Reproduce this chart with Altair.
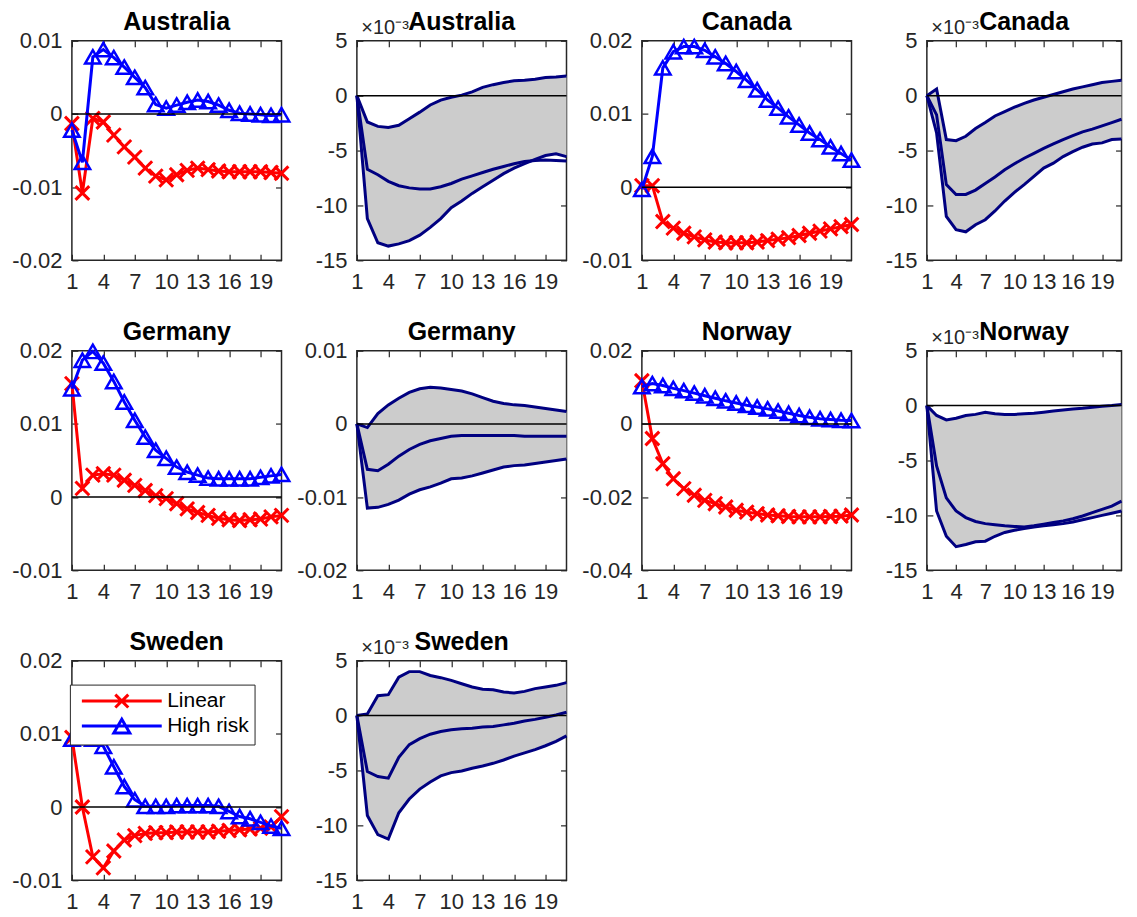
import altair as alt
import pandas as pd

horizon = list(range(1, 22))
x_ticks = [1, 4, 7, 10, 13, 16, 19]
series_names = ["Linear", "High risk"]

# ---- Australia ----
aus_linear = [-0.0013, -0.0108, -0.0006, -0.0011, -0.0029, -0.0045, -0.0059, -0.0074, -0.0085, -0.0090, -0.0083,
              -0.0077, -0.0074, -0.0076, -0.0078, -0.0079, -0.0079, -0.0079, -0.0079, -0.0080, -0.0081]
aus_high = [-0.0022, -0.0066, 0.0078, 0.0088, 0.0077, 0.0064, 0.0050, 0.0036, 0.0013, 0.0008, 0.0012,
            0.0016, 0.0019, 0.0017, 0.0012, 0.0005, 0.0001, 0.0000, -0.0001, -0.0002, -0.0001]
aus_upper = [0, -2.4, -2.8, -2.9, -2.7, -2.1, -1.5, -0.85, -0.4, -0.15, 0.05, 0.35, 0.75, 1.0, 1.2, 1.35,
             1.4, 1.5, 1.65, 1.7, 1.8]
aus_median = [0, -6.7, -7.2, -7.8, -8.2, -8.4, -8.5, -8.5, -8.3, -8.0, -7.6, -7.3, -7.0, -6.7, -6.45, -6.2,
              -6.0, -5.9, -5.85, -5.9, -5.95]
aus_lower = [0, -11.2, -13.4, -13.7, -13.5, -13.2, -12.7, -12.0, -11.2, -10.2, -9.6, -8.9, -8.3, -7.7, -7.1,
             -6.6, -6.2, -5.8, -5.45, -5.3, -5.55]

# ---- Canada ----
can_linear = [0.0002, 0.0002, -0.0047, -0.0056, -0.0063, -0.0068, -0.0072, -0.0075, -0.0076, -0.0076, -0.0076,
              -0.0075, -0.0073, -0.0071, -0.0069, -0.0066, -0.0063, -0.0060, -0.0057, -0.0054, -0.0051]
can_high = [-0.0003, 0.0042, 0.0163, 0.0185, 0.0192, 0.0192, 0.0187, 0.0178, 0.0169, 0.0158, 0.0146, 0.0133,
            0.0119, 0.0108, 0.0096, 0.0085, 0.0074, 0.0065, 0.0055, 0.0046, 0.0037]
can_upper = [0, 0.6, -4.0, -4.1, -3.7, -3.0, -2.45, -1.85, -1.45, -1.05, -0.7, -0.4, -0.15, 0.1, 0.35, 0.6,
             0.8, 1.0, 1.2, 1.3, 1.4]
can_median = [0, -1.75, -8.1, -9.0, -9.0, -8.6, -8.0, -7.4, -6.75, -6.2, -5.7, -5.25, -4.8, -4.4, -4.0, -3.65,
              -3.3, -3.05, -2.75, -2.45, -2.15]
can_lower = [0, -3.4, -11.0, -12.2, -12.4, -11.75, -11.3, -10.5, -9.6, -8.8, -8.1, -7.35, -6.6, -6.15, -5.55,
             -5.1, -4.7, -4.4, -4.3, -4.0, -3.95]

# ---- Germany ----
ger_linear = [0.0155, 0.0012, 0.0030, 0.0032, 0.0030, 0.0023, 0.0016, 0.0009, 0.0002, -0.0002, -0.0009,
              -0.0016, -0.0021, -0.0025, -0.0029, -0.0031, -0.0032, -0.0031, -0.0030, -0.0027, -0.0025]
ger_high = [0.0148, 0.0187, 0.0199, 0.0183, 0.0158, 0.0130, 0.0105, 0.0082, 0.0064, 0.0053, 0.0041, 0.0034,
            0.0030, 0.0026, 0.0025, 0.0025, 0.0025, 0.0025, 0.0027, 0.0029, 0.0031]
ger_upper = [0, -0.0005, 0.0014, 0.0026, 0.0035, 0.0043, 0.0048, 0.0050, 0.0049, 0.0047, 0.0045, 0.0041,
             0.0036, 0.0031, 0.0028, 0.0026, 0.0025, 0.0023, 0.0021, 0.0019, 0.0017]
ger_median = [0, -0.0062, -0.0064, -0.0055, -0.0044, -0.0035, -0.0028, -0.0023, -0.0020, -0.0017, -0.0016,
              -0.0016, -0.0016, -0.0016, -0.0016, -0.0016, -0.0017, -0.0017, -0.0017, -0.0017, -0.0017]
ger_lower = [0, -0.0115, -0.0114, -0.0110, -0.0104, -0.0096, -0.0090, -0.0086, -0.0081, -0.0075, -0.0074,
             -0.0071, -0.0067, -0.0063, -0.0059, -0.0057, -0.0056, -0.0054, -0.0052, -0.0050, -0.0048]

# ---- Norway ----
nor_linear = [0.0118, -0.0040, -0.0109, -0.0150, -0.0177, -0.0195, -0.0209, -0.0218, -0.0227, -0.0236, -0.0241,
              -0.0245, -0.0249, -0.0251, -0.0253, -0.0254, -0.0254, -0.0254, -0.0253, -0.0252, -0.0249]
nor_high = [0.0102, 0.0110, 0.0105, 0.0097, 0.0091, 0.0084, 0.0077, 0.0070, 0.0063, 0.0057, 0.0051, 0.0046,
            0.0041, 0.0035, 0.0029, 0.0023, 0.0018, 0.0014, 0.0012, 0.0010, 0.0009]
nor_upper = [0, -0.9, -1.3, -1.15, -0.9, -0.8, -0.6, -0.75, -0.8, -0.8, -0.75, -0.7, -0.6, -0.5, -0.4, -0.3,
             -0.25, -0.15, -0.05, 0.0, 0.1]
nor_median = [0, -5.5, -8.4, -9.6, -10.2, -10.55, -10.75, -10.85, -10.95, -11.0, -11.05, -10.95, -10.8,
              -10.65, -10.5, -10.3, -10.05, -9.75, -9.45, -9.15, -8.7]
nor_lower = [0, -9.6, -11.9, -12.85, -12.65, -12.4, -12.35, -11.9, -11.55, -11.35, -11.2, -11.05, -10.95,
             -10.85, -10.75, -10.6, -10.4, -10.2, -10.0, -9.8, -9.6]

# ---- Sweden ----
swe_linear = [0.0095, 0.0000, -0.0068, -0.0083, -0.0060, -0.0045, -0.0039, -0.0036, -0.0035, -0.0035, -0.0034,
              -0.0034, -0.0034, -0.0034, -0.0033, -0.0032, -0.0031, -0.0030, -0.0029, -0.0027, -0.0013]
swe_high = [0.0093, 0.0095, 0.0093, 0.0083, 0.0055, 0.0028, 0.0010, 0.0001, 0.0001, 0.0001, 0.0002, 0.0002,
            0.0002, 0.0002, 0.0001, -0.0006, -0.0013, -0.0016, -0.0021, -0.0026, -0.0029]
swe_upper = [0, 0.15, 1.8, 1.9, 3.5, 4.0, 4.0, 3.65, 3.45, 3.2, 2.9, 2.6, 2.4, 2.35, 2.15, 2.05, 2.2, 2.45,
             2.6, 2.75, 3.0]
swe_median = [0, -5.1, -5.55, -5.7, -3.8, -2.65, -2.1, -1.7, -1.45, -1.3, -1.2, -1.15, -1.05, -1.0, -0.85,
              -0.7, -0.5, -0.35, -0.15, 0.05, 0.3]
swe_lower = [0, -9.1, -10.85, -11.25, -8.85, -7.6, -6.7, -6.05, -5.5, -5.2, -5.05, -4.8, -4.6, -4.35, -4.05,
             -3.7, -3.4, -3.1, -2.75, -2.35, -1.85]

lin_ticks_a = [-0.02, -0.01, 0, 0.01]
lin_ticks_b = [-0.01, 0, 0.01, 0.02]
lin_ticks_n = [-0.04, -0.02, 0, 0.02]
band_ticks_e3 = [-15, -10, -5, 0, 5]
multiplier = "×10⁻³"

# ---- styling ----
FONT = "Liberation Sans"
AXC = "#262626"
TK = 6
W, H = 210, 220
W_LAST = 195
RED, BLUE, NAVY, GREY = "#ff0000", "#0000ff", "#000080", "#cccccc"
X_MARK = "M-1,-1L1,1M-1,1L1,-1"
LEG_X = "M-4,0L4,0M-0.65,-0.65L0.65,0.65M-0.65,0.65L0.65,-0.65"
LEG_TRI = "M-4,0L4,0M0,-0.69L0.8,0.69L-0.8,0.69Z"
MINUS_FIX = "replace(datum.label, '\u2212', '-')"
ROW_GAP = 90.5
TITLE_OFF_PLAIN = -5
TITLE_OFF_MULT = -17

X_SCALE = alt.Scale(domain=[1, 21], nice=False, zero=False)


def ax_bottom():
    return alt.Axis(orient="bottom", values=x_ticks, format="d", offset=-TK, tickSize=TK, tickColor=AXC,
                    tickWidth=1.2, domain=False, grid=False, labelFont=FONT, labelFontSize=22,
                    labelColor=AXC, labelPadding=11, labelOverlap=False, labelFlush=False, title=None)


def ax_top():
    return alt.Axis(orient="top", values=x_ticks, offset=-TK, tickSize=TK, tickColor=AXC, tickWidth=1.2,
                    domain=False, grid=False, labels=False, title=None)


def ax_left(values, fmt, title=None):
    if title:
        kw = dict(title=title, titleAngle=0, titleX=-2, titleY=-7, titleAlign="left",
                  titleBaseline="alphabetic", titleFont=FONT, titleFontSize=20, titleFontWeight="normal",
                  titleColor=AXC)
    else:
        kw = dict(title=None)
    return alt.Axis(orient="left", values=values, format=fmt, labelExpr=MINUS_FIX, offset=-TK, tickSize=TK,
                    tickColor=AXC, tickWidth=1.2, domain=False, grid=False, labelFont=FONT,
                    labelFontSize=22, labelColor=AXC, labelPadding=10, labelOverlap=False,
                    labelFlush=False, **kw)


def ax_right(values):
    return alt.Axis(orient="right", values=values, offset=-TK, tickSize=TK, tickColor=AXC, tickWidth=1.2,
                    domain=False, grid=False, labels=False, title=None)


def panel_title(text, offset):
    return alt.TitleParams(text=text, font=FONT, fontSize=25, fontWeight="bold", color="black",
                           offset=offset, anchor="middle", frame="group")


def xenc(axis):
    return alt.X("h:Q", scale=X_SCALE, axis=axis)


def lin_panel(name, lin, high, ydom, yvals, width=W, legend_row=None):
    ys = alt.Scale(domain=ydom, nice=False, zero=False)
    df_l = pd.DataFrame({"h": horizon, "v": lin})
    df_h = pd.DataFrame({"h": horizon, "v": high})
    df_z = pd.DataFrame({"z": [0.0]})
    red_line = alt.Chart(df_l).mark_line(color=RED, strokeWidth=3).encode(
        x=xenc(ax_bottom()), y=alt.Y("v:Q", scale=ys, axis=ax_left(yvals, ".2~f")))
    red_pts = alt.Chart(df_l).mark_point(shape=X_MARK, size=190, filled=False, color=RED, strokeWidth=3,
                                         opacity=1).encode(
        x=xenc(ax_top()), y=alt.Y("v:Q", scale=ys, axis=ax_right(yvals)))
    blue_line = alt.Chart(df_h).mark_line(color=BLUE, strokeWidth=3).encode(
        x=xenc(None), y=alt.Y("v:Q", scale=ys, axis=None))
    blue_pts = alt.Chart(df_h).mark_point(shape="triangle-up", size=240, filled=False, color=BLUE,
                                          strokeWidth=2.5, opacity=1).encode(
        x=xenc(None), y=alt.Y("v:Q", scale=ys, axis=None))
    zero = alt.Chart(df_z).mark_rule(color="black", strokeWidth=1.5).encode(
        y=alt.Y("z:Q", scale=ys, axis=None))
    layers = [red_line, red_pts, blue_line, blue_pts, zero]
    if legend_row is not None:
        leg = alt.Legend(title=None, orient="none", legendX=-2, legendY=legend_row * (H + ROW_GAP) + 24,
                         padding=5, fillColor="white", strokeColor=AXC, symbolSize=400,
                         symbolStrokeWidth=3, symbolOffset=35.5, labelOffset=34, labelFont=FONT,
                         labelFontSize=21, labelColor="black", rowPadding=-1, symbolOpacity=1)
        leg_df = pd.DataFrame({"h": [None, None], "v": [None, None], "series": series_names})
        leg_layer = alt.Chart(leg_df).mark_point(filled=False, strokeWidth=3, opacity=1).encode(
            x=xenc(None), y=alt.Y("v:Q", scale=ys, axis=None),
            shape=alt.Shape("series:N", scale=alt.Scale(domain=series_names, range=[LEG_X, LEG_TRI]),
                            legend=leg),
            color=alt.Color("series:N", scale=alt.Scale(domain=series_names, range=[RED, BLUE]),
                            legend=leg))
        layers.append(leg_layer)
    return alt.layer(*layers).resolve_axis(x="independent", y="independent").properties(
        width=width, height=H, title=panel_title(name, TITLE_OFF_PLAIN))


def band_panel(name, up, med, lo, ydom, yvals, fmt, ytitle=None, width=W):
    ys = alt.Scale(domain=ydom, nice=False, zero=False)
    df_b = pd.DataFrame({"h": horizon, "lo": lo, "up": up})
    df_lines = pd.concat([
        pd.DataFrame({"h": horizon, "v": up, "band": "upper"}),
        pd.DataFrame({"h": horizon, "v": med, "band": "median"}),
        pd.DataFrame({"h": horizon, "v": lo, "band": "lower"}),
    ], ignore_index=True)
    df_z = pd.DataFrame({"z": [0.0]})
    area = alt.Chart(df_b).mark_area(color=GREY, opacity=1).encode(
        x=xenc(ax_bottom()), y=alt.Y("lo:Q", scale=ys, axis=ax_left(yvals, fmt, ytitle)), y2="up:Q")
    zero = alt.Chart(df_z).mark_rule(color="black", strokeWidth=1.5).encode(
        y=alt.Y("z:Q", scale=ys, axis=None))
    lines = alt.Chart(df_lines).mark_line(color=NAVY, strokeWidth=3).encode(
        x=xenc(ax_top()), y=alt.Y("v:Q", scale=ys, axis=ax_right(yvals)), detail="band:N")
    off = TITLE_OFF_MULT if ytitle else TITLE_OFF_PLAIN
    return alt.layer(area, lines, zero).resolve_axis(x="independent", y="independent").properties(
        width=width, height=H, title=panel_title(name, off))


panels = [
    lin_panel("Australia", aus_linear, aus_high, [-0.02, 0.01], lin_ticks_a),
    band_panel("Australia", aus_upper, aus_median, aus_lower, [-15, 5], band_ticks_e3, "d", multiplier),
    lin_panel("Canada", can_linear, can_high, [-0.01, 0.02], lin_ticks_b),
    band_panel("Canada", can_upper, can_median, can_lower, [-15, 5], band_ticks_e3, "d", multiplier,
               width=W_LAST),
    lin_panel("Germany", ger_linear, ger_high, [-0.01, 0.02], lin_ticks_b),
    band_panel("Germany", ger_upper, ger_median, ger_lower, [-0.02, 0.01], lin_ticks_a, ".2~f"),
    lin_panel("Norway", nor_linear, nor_high, [-0.04, 0.02], lin_ticks_n),
    band_panel("Norway", nor_upper, nor_median, nor_lower, [-15, 5], band_ticks_e3, "d", multiplier,
               width=W_LAST),
    lin_panel("Sweden", swe_linear, swe_high, [-0.01, 0.02], lin_ticks_b, legend_row=2),
    band_panel("Sweden", swe_upper, swe_median, swe_lower, [-15, 5], band_ticks_e3, "d", multiplier),
]

chart = alt.ConcatChart(
    concat=panels, columns=4, spacing={"row": ROW_GAP, "column": 75.5}, bounds="flush",
).properties(
    padding={"left": 3, "top": 0, "right": 0, "bottom": 0},
    background="white",
).configure_view(stroke=AXC, strokeWidth=1.5)

chart.save("out.html", embed_options={"renderer": "svg", "actions": False})
